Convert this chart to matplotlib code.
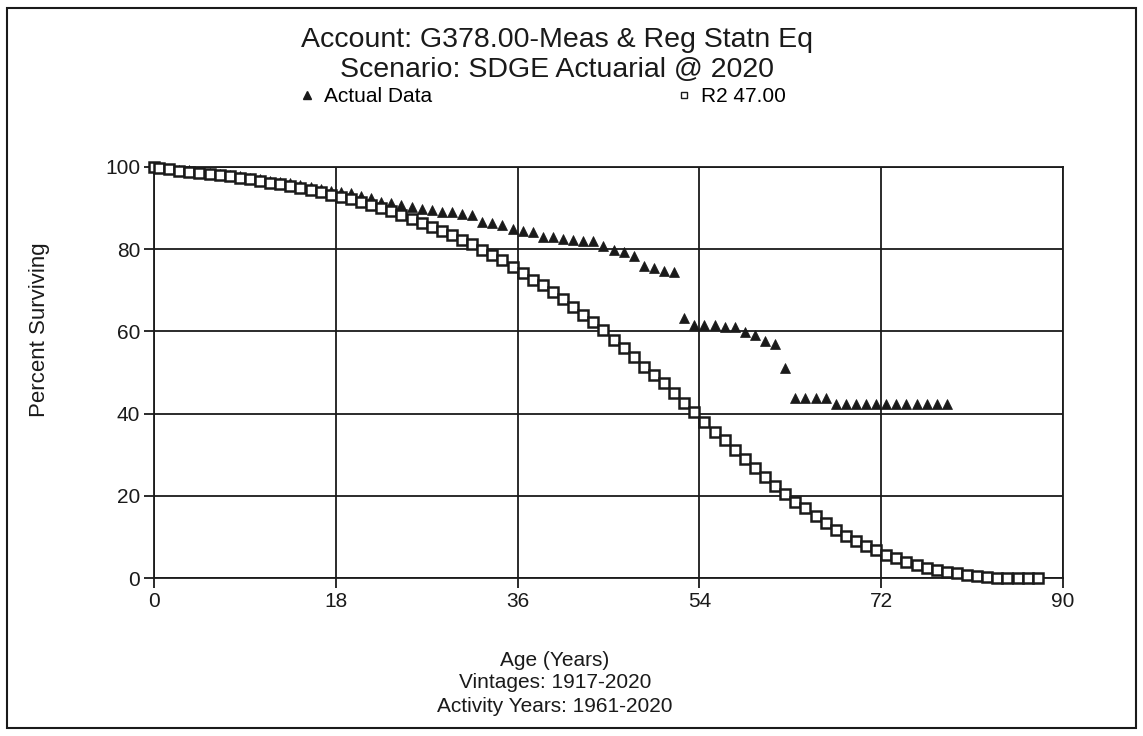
import matplotlib
matplotlib.use("Agg")
from matplotlib import pyplot as plt
from matplotlib.lines import Line2D
from matplotlib.patches import Rectangle

plt.rcParams['font.family'] = ['Liberation Sans', 'DejaVu Sans']

# observed survivorship (half-year convention)
actual_ages = [0, 0.5] + [i + 0.5 for i in range(1, 79)]
actual_pct = [
    100.0, 99.8, 99.6, 99.3, 99.2, 98.9, 98.6, 98.4, 98.1, 97.8,
    97.4, 97.0, 96.6, 96.3, 96.0, 95.6, 95.2, 94.6, 94.2, 93.9,
    93.6, 92.9, 92.4, 91.6, 91.2, 90.8, 90.3, 89.8, 89.5, 89.0,
    89.0, 88.6, 88.2, 86.7, 86.3, 85.9, 84.9, 84.4, 84.1, 83.0,
    82.9, 82.6, 82.2, 82.0, 82.0, 80.9, 79.8, 79.4, 78.3, 75.9,
    75.5, 74.8, 74.4, 63.2, 61.6, 61.6, 61.6, 61.0, 61.0, 59.9,
    59.1, 57.7, 56.9, 51.0, 43.7, 43.7, 43.7, 43.7, 42.3, 42.3,
    42.3, 42.3, 42.3, 42.3, 42.3, 42.3, 42.3, 42.3, 42.3, 42.3,
]

# fitted Iowa R2 curve, 47.00 year average life
curve_ages = [0, 0.5] + [i + 0.5 for i in range(1, 88)]
curve_pct = [
    100.0, 99.8, 99.4, 99.1, 98.9, 98.6, 98.3, 98.0, 97.7, 97.4,
    97.0, 96.6, 96.2, 95.8, 95.4, 95.0, 94.5, 93.9, 93.3, 92.7,
    92.1, 91.5, 90.8, 90.0, 89.2, 88.3, 87.4, 86.4, 85.5, 84.5,
    83.4, 82.3, 81.2, 79.9, 78.6, 77.3, 75.6, 74.1, 72.6, 71.2,
    69.5, 67.8, 65.9, 64.0, 62.2, 60.3, 57.9, 55.9, 53.8, 51.4,
    49.4, 47.4, 45.1, 42.7, 40.5, 37.9, 35.6, 33.6, 31.1, 28.9,
    26.7, 24.5, 22.5, 20.5, 18.6, 17.0, 15.1, 13.5, 11.8, 10.2,
    8.9, 7.8, 6.8, 5.7, 4.8, 4.0, 3.2, 2.4, 2.0, 1.5,
    1.1, 0.7, 0.4, 0.2, 0.1, 0.0, 0.0, 0.0, 0.0,
]

x_ticks = [0, 18, 36, 54, 72, 90]
y_ticks = [0, 20, 40, 60, 80, 100]

W, H = 1143, 736
ink = '#1a1a1a'

fig = plt.figure(figsize=(W / 100, H / 100), dpi=100)
ax = fig.add_axes([154 / W, 1 - 578 / H, (1063 - 154) / W, (578 - 167) / H])

ax.plot(actual_ages, actual_pct, ls='none', marker='^', ms=7.6,
        color=ink, mew=0.5, zorder=3, clip_on=False)
ax.plot(curve_ages, curve_pct, ls='none', marker='s', ms=6.6,
        mfc='white', mec=ink, mew=1.8, zorder=4, clip_on=False)

ax.set_xlim(0, 90)
ax.set_ylim(0, 100)
ax.set_xticks(x_ticks)
ax.set_yticks(y_ticks)
ax.grid(True, color=ink, lw=1.3)
ax.set_axisbelow(True)
for sp in ax.spines.values():
    sp.set_linewidth(1.3)
    sp.set_color(ink)
ax.tick_params(direction='out', length=7, width=1.3, pad=3,
               labelsize=15, colors=ink)

# titles and legend above the plot
cx = 557 / W
fig.text(cx, 1 - 40 / H, 'Account: G378.00-Meas & Reg Statn Eq',
         ha='center', va='center', fontsize=20.5, color=ink)
fig.text(cx, 1 - 70 / H, 'Scenario: SDGE Actuarial @ 2020',
         ha='center', va='center', fontsize=20.5, color=ink)

handles = [
    Line2D([], [], ls='none', marker='^', ms=5.5, color=ink),
    Line2D([], [], ls='none', marker='s', ms=5.0, mfc='white', mec=ink, mew=1.0),
]
fig.legend(handles, ['Actual Data', 'R2 47.00'], ncol=2, frameon=False,
           loc='center left', bbox_to_anchor=(299 / W, 1 - 97 / H),
           handlelength=0.8, handletextpad=0.4, columnspacing=11.7,
           borderpad=0, borderaxespad=0, fontsize=15)

fig.text(40 / W, 1 - 330 / H, 'Percent Surviving', rotation=90,
         ha='center', va='center', fontsize=16, color=ink)

bx = 555 / W
fig.text(bx, 1 - 660 / H, 'Age (Years)', ha='center', va='center',
         fontsize=15, color=ink)
fig.text(bx, 1 - 683 / H, 'Vintages: 1917-2020', ha='center', va='center',
         fontsize=15, color=ink)
fig.text(bx, 1 - 706 / H, 'Activity Years: 1961-2020', ha='center',
         va='center', fontsize=15, color=ink)

# outer frame
fig.patches.append(Rectangle((7 / W, 1 - 728 / H), (1136 - 7) / W, (728 - 8) / H,
                             transform=fig.transFigure, fill=False,
                             lw=1.5, ec=ink))

fig.savefig('out.png', dpi=100)
